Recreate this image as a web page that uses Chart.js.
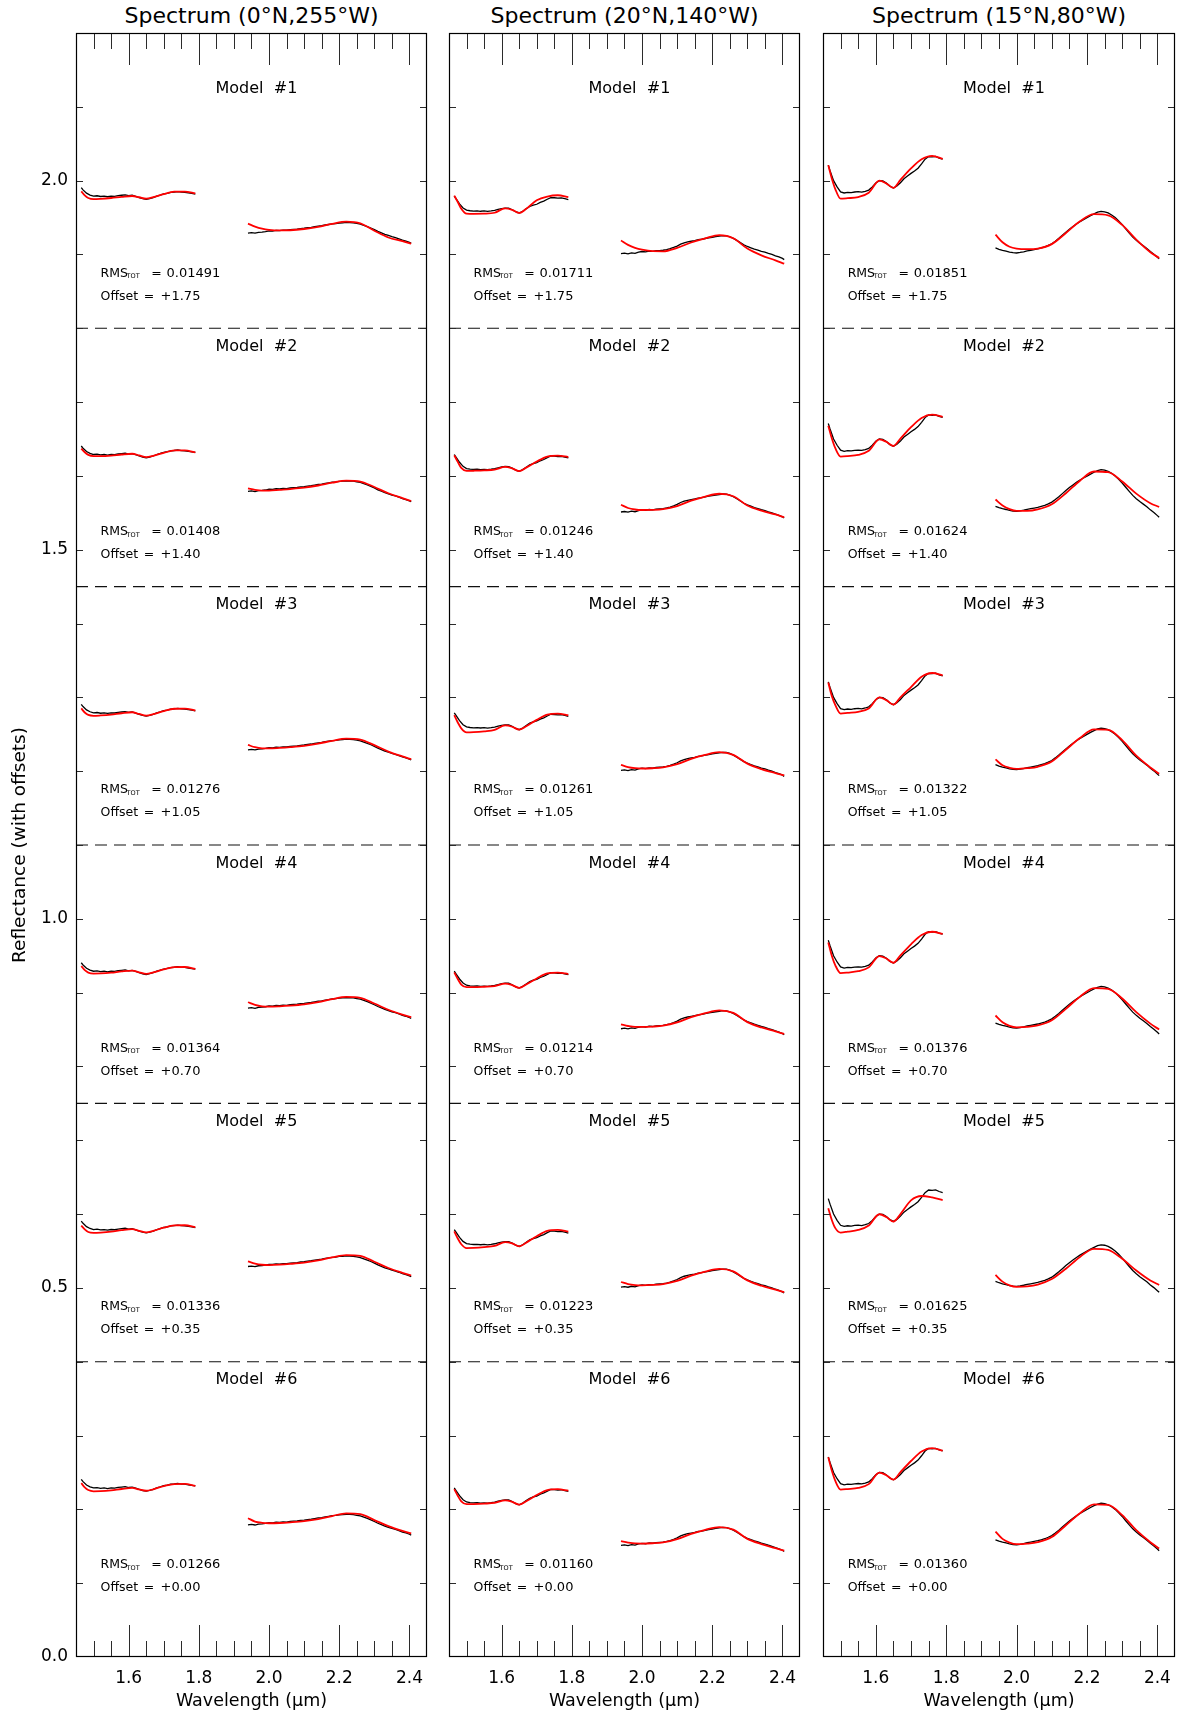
<!DOCTYPE html>
<html>
<head>
<meta charset="utf-8">
<title>Spectral model fits</title>
<script src="https://cdn.jsdelivr.net/npm/chart.js@4.4.1/dist/chart.umd.min.js"></script>
<style>
  html, body { margin: 0; padding: 0; background: #fff; }
  #page { position: relative; width: 1180px; height: 1715px; overflow: hidden; background: #fff; }
  canvas { position: absolute; top: 0; }
  .ttl { position: absolute; top: 4px; height: 24px; line-height: 24px; text-align: center;
         font-family: "DejaVu Sans", sans-serif; font-size: 22px; color: #000; white-space: nowrap; }
</style>
</head>
<body>
<div id="page"></div>
<script>
// ---------------- data ----------------
const columnTitles = ['Spectrum (0°N,255°W)', 'Spectrum (20°N,140°W)', 'Spectrum (15°N,80°W)'];
const modelNames = ['Model  #1', 'Model  #2', 'Model  #3', 'Model  #4', 'Model  #5', 'Model  #6'];
const offsets = [1.75, 1.40, 1.05, 0.70, 0.35, 0.00];
const offsetLabels = ['+1.75', '+1.40', '+1.05', '+0.70', '+0.35', '+0.00'];
const dividerLevels = [1.80, 1.45, 1.10, 0.75, 0.40];

const rmsCol1 = ['0.01491', '0.01408', '0.01276', '0.01364', '0.01336', '0.01266'];
const rmsCol2 = ['0.01711', '0.01246', '0.01261', '0.01214', '0.01223', '0.01160'];
const rmsCol3 = ['0.01851', '0.01624', '0.01322', '0.01376', '0.01625', '0.01360'];

const xTickLabels = [1.6, 1.8, 2.0, 2.2, 2.4];
const xMinorTicks = [1.5, 1.55, 1.65, 1.7, 1.75, 1.85, 1.9, 1.95, 2.05, 2.1, 2.15, 2.25, 2.3, 2.35];
const yTickLabels = [0.0, 0.5, 1.0, 1.5, 2.0];
const yMinorTicks = [0.1, 0.2, 0.3, 0.4, 0.5, 0.6, 0.7, 0.8, 0.9, 1.0, 1.1, 1.2, 1.3, 1.4, 1.5, 1.6, 1.7, 1.8, 1.9, 2.0, 2.1];

// observed spectra (wavelength in µm, reflectance without offset)
const wlObsShort = [1.465, 1.47, 1.48, 1.49, 1.50, 1.51, 1.52, 1.53, 1.54, 1.55, 1.56, 1.57, 1.58, 1.59, 1.60, 1.61, 1.62,
  1.63, 1.64, 1.65, 1.66, 1.67, 1.68, 1.69, 1.70, 1.71, 1.72, 1.73, 1.74, 1.75, 1.76, 1.77, 1.78, 1.79];
const wlObsLong = [1.94, 1.95, 1.96, 1.97, 1.98, 1.99, 2.00, 2.01, 2.02, 2.03, 2.04, 2.05, 2.06, 2.07, 2.08, 2.09, 2.10,
  2.11, 2.12, 2.13, 2.14, 2.15, 2.16, 2.17, 2.18, 2.19, 2.20, 2.21, 2.22, 2.23, 2.24, 2.25, 2.26, 2.27, 2.28, 2.29, 2.30,
  2.31, 2.32, 2.33, 2.34, 2.35, 2.36, 2.37, 2.38, 2.39, 2.40, 2.405];

const obsShort1 = [0.2405, 0.2375, 0.2330, 0.2305, 0.2290, 0.2295, 0.2285, 0.2290, 0.2282, 0.2291,
  0.2288, 0.2297, 0.2302, 0.2308, 0.2296, 0.2302, 0.2287, 0.2270, 0.2255, 0.2246,
  0.2256, 0.2270, 0.2290, 0.2304, 0.2320, 0.2328, 0.2340, 0.2344, 0.2351, 0.2343,
  0.2341, 0.2333, 0.2326, 0.2318];
const obsLong1 = [0.1790, 0.1796, 0.1788, 0.1800, 0.1803, 0.1809, 0.1820, 0.1817, 0.1826, 0.1823,
  0.1830, 0.1828, 0.1836, 0.1840, 0.1843, 0.1851, 0.1855, 0.1862, 0.1868, 0.1876,
  0.1884, 0.1889, 0.1899, 0.1906, 0.1914, 0.1918, 0.1926, 0.1929, 0.1934, 0.1931,
  0.1928, 0.1920, 0.1911, 0.1894, 0.1877, 0.1858, 0.1836, 0.1812, 0.1793, 0.1772,
  0.1757, 0.1741, 0.1728, 0.1712, 0.1693, 0.1680, 0.1663, 0.1652];

const obsShort2 = [0.2290, 0.2255, 0.2185, 0.2130, 0.2100, 0.2092, 0.2088, 0.2091, 0.2085, 0.2089,
  0.2084, 0.2090, 0.2098, 0.2110, 0.2121, 0.2128, 0.2127, 0.2106, 0.2079, 0.2062,
  0.2085, 0.2118, 0.2150, 0.2168, 0.2180, 0.2205, 0.2222, 0.2248, 0.2271, 0.2268,
  0.2262, 0.2266, 0.2255, 0.2243];
const obsLong2 = [0.1511, 0.1518, 0.1509, 0.1522, 0.1515, 0.1531, 0.1540, 0.1534, 0.1545, 0.1541,
  0.1550, 0.1553, 0.1557, 0.1566, 0.1578, 0.1595, 0.1614, 0.1640, 0.1658, 0.1670,
  0.1679, 0.1688, 0.1700, 0.1706, 0.1716, 0.1725, 0.1733, 0.1741, 0.1748, 0.1755,
  0.1753, 0.1740, 0.1718, 0.1690, 0.1660, 0.1630, 0.1608, 0.1590, 0.1572, 0.1558,
  0.1542, 0.1530, 0.1514, 0.1500, 0.1482, 0.1466, 0.1446, 0.1430];

const obsShort3 = [0.2710, 0.2635, 0.2500, 0.2415, 0.2348, 0.2333, 0.2342, 0.2338, 0.2346, 0.2350,
  0.2345, 0.2356, 0.2372, 0.2415, 0.2468, 0.2500, 0.2496, 0.2466, 0.2424, 0.2401,
  0.2428, 0.2472, 0.2526, 0.2562, 0.2598, 0.2630, 0.2668, 0.2726, 0.2790, 0.2826,
  0.2821, 0.2827, 0.2806, 0.2792];
const obsLong3 = [0.1588, 0.1570, 0.1556, 0.1545, 0.1532, 0.1524, 0.1520, 0.1527, 0.1536, 0.1548,
  0.1556, 0.1565, 0.1575, 0.1588, 0.1602, 0.1622, 0.1645, 0.1680, 0.1718, 0.1760,
  0.1802, 0.1842, 0.1878, 0.1912, 0.1944, 0.1972, 0.1998, 0.2025, 0.2050, 0.2072,
  0.2084, 0.2078, 0.2062, 0.2035, 0.2000, 0.1955, 0.1904, 0.1846, 0.1790, 0.1736,
  0.1692, 0.1652, 0.1618, 0.1582, 0.1540, 0.1504, 0.1462, 0.1440];

// model fits, one row per model (#1..#6)
const wlFitShort = [1.465, 1.475, 1.485, 1.50, 1.52, 1.55, 1.58, 1.61, 1.63, 1.65, 1.67, 1.70, 1.73, 1.76, 1.79];
const wlFitLong = [1.94, 1.96, 1.98, 2.00, 2.03, 2.06, 2.10, 2.14, 2.18, 2.22, 2.26, 2.30, 2.34, 2.38, 2.405];

const fitShort1 = [
  [0.2355, 0.2300, 0.2265, 0.2250, 0.2254, 0.2265, 0.2280, 0.2292, 0.2275, 0.2255, 0.2275, 0.2318, 0.2350, 0.2352, 0.2328],
  [0.2370, 0.2320, 0.2285, 0.2268, 0.2268, 0.2275, 0.2290, 0.2300, 0.2278, 0.2255, 0.2272, 0.2312, 0.2345, 0.2346, 0.2320],
  [0.2350, 0.2295, 0.2262, 0.2250, 0.2255, 0.2267, 0.2285, 0.2298, 0.2275, 0.2253, 0.2272, 0.2315, 0.2346, 0.2348, 0.2322],
  [0.2360, 0.2305, 0.2272, 0.2258, 0.2260, 0.2270, 0.2287, 0.2298, 0.2276, 0.2254, 0.2273, 0.2314, 0.2346, 0.2347, 0.2321],
  [0.2345, 0.2292, 0.2258, 0.2246, 0.2250, 0.2262, 0.2282, 0.2296, 0.2273, 0.2253, 0.2273, 0.2316, 0.2347, 0.2349, 0.2322],
  [0.2355, 0.2298, 0.2262, 0.2245, 0.2247, 0.2258, 0.2276, 0.2290, 0.2270, 0.2252, 0.2272, 0.2315, 0.2343, 0.2345, 0.2318]
];
const fitLong1 = [
  [0.1917, 0.1878, 0.1850, 0.1834, 0.1826, 0.1828, 0.1845, 0.1875, 0.1915, 0.1944, 0.1922, 0.1822, 0.1730, 0.1680, 0.1646],
  [0.1830, 0.1810, 0.1800, 0.1802, 0.1812, 0.1822, 0.1840, 0.1870, 0.1908, 0.1936, 0.1924, 0.1850, 0.1765, 0.1700, 0.1660],
  [0.1855, 0.1825, 0.1810, 0.1808, 0.1815, 0.1825, 0.1843, 0.1873, 0.1912, 0.1940, 0.1928, 0.1852, 0.1766, 0.1700, 0.1662],
  [0.1870, 0.1835, 0.1815, 0.1810, 0.1815, 0.1824, 0.1842, 0.1872, 0.1912, 0.1942, 0.1930, 0.1853, 0.1768, 0.1703, 0.1668],
  [0.1860, 0.1830, 0.1814, 0.1810, 0.1815, 0.1825, 0.1843, 0.1874, 0.1914, 0.1945, 0.1934, 0.1855, 0.1770, 0.1705, 0.1668],
  [0.1880, 0.1835, 0.1818, 0.1812, 0.1815, 0.1824, 0.1840, 0.1868, 0.1910, 0.1946, 0.1935, 0.1855, 0.1772, 0.1708, 0.1675]
];

const fitShort2 = [
  [0.2297, 0.2210, 0.2120, 0.2053, 0.2050, 0.2052, 0.2065, 0.2125, 0.2105, 0.2062, 0.2118, 0.2235, 0.2285, 0.2302, 0.2278],
  [0.2280, 0.2190, 0.2108, 0.2068, 0.2070, 0.2075, 0.2085, 0.2122, 0.2102, 0.2065, 0.2112, 0.2195, 0.2262, 0.2275, 0.2255],
  [0.2260, 0.2160, 0.2080, 0.2025, 0.2028, 0.2040, 0.2060, 0.2120, 0.2102, 0.2062, 0.2108, 0.2195, 0.2265, 0.2280, 0.2258],
  [0.2275, 0.2185, 0.2110, 0.2075, 0.2075, 0.2080, 0.2088, 0.2122, 0.2102, 0.2064, 0.2110, 0.2192, 0.2260, 0.2272, 0.2252],
  [0.2265, 0.2170, 0.2092, 0.2040, 0.2042, 0.2052, 0.2068, 0.2120, 0.2102, 0.2062, 0.2112, 0.2200, 0.2272, 0.2285, 0.2262],
  [0.2275, 0.2185, 0.2108, 0.2070, 0.2072, 0.2078, 0.2088, 0.2122, 0.2102, 0.2064, 0.2110, 0.2194, 0.2262, 0.2274, 0.2254]
];
const fitLong2 = [
  [0.1690, 0.1630, 0.1590, 0.1565, 0.1545, 0.1543, 0.1590, 0.1662, 0.1718, 0.1762, 0.1720, 0.1580, 0.1488, 0.1420, 0.1375],
  [0.1610, 0.1565, 0.1545, 0.1538, 0.1540, 0.1550, 0.1592, 0.1665, 0.1720, 0.1758, 0.1725, 0.1600, 0.1530, 0.1478, 0.1440],
  [0.1585, 0.1555, 0.1540, 0.1536, 0.1540, 0.1552, 0.1595, 0.1668, 0.1722, 0.1758, 0.1722, 0.1602, 0.1528, 0.1475, 0.1445],
  [0.1570, 0.1548, 0.1535, 0.1535, 0.1540, 0.1552, 0.1596, 0.1668, 0.1722, 0.1760, 0.1725, 0.1600, 0.1528, 0.1475, 0.1440],
  [0.1580, 0.1552, 0.1538, 0.1535, 0.1540, 0.1552, 0.1595, 0.1666, 0.1722, 0.1758, 0.1724, 0.1602, 0.1530, 0.1476, 0.1442],
  [0.1570, 0.1550, 0.1538, 0.1537, 0.1541, 0.1552, 0.1596, 0.1668, 0.1722, 0.1760, 0.1726, 0.1600, 0.1530, 0.1476, 0.1440]
];

const fitShort3 = [
  [0.2707, 0.2530, 0.2385, 0.2255, 0.2262, 0.2278, 0.2335, 0.2500, 0.2462, 0.2402, 0.2510, 0.2665, 0.2790, 0.2836, 0.2796],
  [0.2680, 0.2510, 0.2375, 0.2262, 0.2268, 0.2285, 0.2340, 0.2495, 0.2462, 0.2405, 0.2505, 0.2660, 0.2785, 0.2830, 0.2800],
  [0.2700, 0.2520, 0.2395, 0.2280, 0.2290, 0.2305, 0.2350, 0.2500, 0.2462, 0.2402, 0.2500, 0.2640, 0.2780, 0.2830, 0.2798],
  [0.2680, 0.2500, 0.2370, 0.2265, 0.2272, 0.2290, 0.2342, 0.2495, 0.2462, 0.2405, 0.2505, 0.2655, 0.2780, 0.2825, 0.2795],
  [0.2580, 0.2420, 0.2310, 0.2250, 0.2262, 0.2285, 0.2345, 0.2498, 0.2460, 0.2398, 0.2500, 0.2685, 0.2745, 0.2725, 0.2690],
  [0.2705, 0.2525, 0.2385, 0.2268, 0.2275, 0.2290, 0.2342, 0.2498, 0.2462, 0.2402, 0.2505, 0.2655, 0.2785, 0.2830, 0.2795]
];
const fitLong3 = [
  [0.1768, 0.1665, 0.1605, 0.1580, 0.1572, 0.1580, 0.1640, 0.1790, 0.1950, 0.2045, 0.2030, 0.1900, 0.1700, 0.1530, 0.1453],
  [0.1680, 0.1600, 0.1550, 0.1525, 0.1525, 0.1545, 0.1615, 0.1765, 0.1935, 0.2060, 0.2050, 0.1925, 0.1760, 0.1630, 0.1580],
  [0.1660, 0.1580, 0.1545, 0.1530, 0.1540, 0.1560, 0.1630, 0.1790, 0.1950, 0.2065, 0.2060, 0.1920, 0.1710, 0.1550, 0.1465],
  [0.1690, 0.1598, 0.1550, 0.1530, 0.1535, 0.1555, 0.1625, 0.1780, 0.1945, 0.2060, 0.2050, 0.1920, 0.1735, 0.1580, 0.1500],
  [0.1676, 0.1585, 0.1535, 0.1515, 0.1520, 0.1545, 0.1620, 0.1760, 0.1920, 0.2030, 0.2015, 0.1895, 0.1735, 0.1600, 0.1540],
  [0.1700, 0.1600, 0.1550, 0.1528, 0.1535, 0.1555, 0.1625, 0.1785, 0.1948, 0.2068, 0.2060, 0.1922, 0.1718, 0.1555, 0.1470]
];

// ---------------- layout ----------------
const PAGE_H = 1715;
const PLOT_TOP = 33, PLOT_BOTTOM = 1657;
const panelLeft = [76, 449, 823];
const panelWidth = [351, 351, 352];
const axisMargin = [76, 10, 10];
const RIGHT_PAD = 4;

// annotation anchors, in data units relative to each model's offset
const modelLabelX = 1.964, modelLabelLift = 0.375;
const statsX = 1.52, rmsLift = 0.126, offsetLift = 0.095;

const FONT = '"DejaVu Sans", sans-serif';

const columns = [
  { obsShort: obsShort1, obsLong: obsLong1, fitShort: fitShort1, fitLong: fitLong1, rms: rmsCol1 },
  { obsShort: obsShort2, obsLong: obsLong2, fitShort: fitShort2, fitLong: fitLong2, rms: rmsCol2 },
  { obsShort: obsShort3, obsLong: obsLong3, fitShort: fitShort3, fitLong: fitLong3, rms: rmsCol3 }
];

// two spectral windows joined with a gap point so the line breaks between them
function twoWindows(wlA, valA, wlB, valB, off) {
  const pts = wlA.map((w, i) => ({ x: w, y: valA[i] + off }));
  pts.push({ x: 1.865, y: null });
  wlB.forEach((w, i) => pts.push({ x: w, y: valB[i] + off }));
  return pts;
}

// frame, inward tick marks and per-model annotations
const panelDecor = {
  id: 'panelDecor',
  afterDraw(chart, args, opts) {
    const { ctx, chartArea: a, scales: { x, y } } = chart;
    const col = columns[opts.col];
    ctx.save();

    ctx.strokeStyle = '#2b2b2b';
    ctx.lineWidth = 1;
    ctx.beginPath();
    const xt = (v, len) => {
      const px = Math.round(x.getPixelForValue(v)) + 0.5;
      ctx.moveTo(px, a.bottom); ctx.lineTo(px, a.bottom - len);
      ctx.moveTo(px, a.top); ctx.lineTo(px, a.top + len);
    };
    xTickLabels.forEach(v => xt(v, 32));
    xMinorTicks.forEach(v => xt(v, 16));
    yMinorTicks.forEach(v => {
      const py = Math.round(y.getPixelForValue(v)) + 0.5;
      ctx.moveTo(a.left, py); ctx.lineTo(a.left + 7, py);
      ctx.moveTo(a.right, py); ctx.lineTo(a.right - 7, py);
    });
    ctx.stroke();

    ctx.strokeStyle = '#000';
    ctx.lineWidth = 1.2;
    ctx.strokeRect(Math.round(a.left) + 0.5, Math.round(a.top) + 0.5,
      Math.round(a.width) - 1, Math.round(a.height) - 1);

    ctx.fillStyle = '#000';
    offsets.forEach((off, m) => {
      ctx.font = '16px ' + FONT;
      ctx.textAlign = 'center';
      ctx.textBaseline = 'middle';
      ctx.fillText(modelNames[m], x.getPixelForValue(modelLabelX), y.getPixelForValue(off + modelLabelLift));

      const tx = x.getPixelForValue(statsX);
      const ry = y.getPixelForValue(off + rmsLift) + 4.5;
      const oy = y.getPixelForValue(off + offsetLift) + 4.5;
      ctx.textBaseline = 'alphabetic';
      ctx.font = '12.5px ' + FONT;
      ctx.textAlign = 'center';
      ctx.fillText('=', tx + 56, ry);
      ctx.fillText('=', tx + 48.5, oy);
      ctx.textAlign = 'left';
      ctx.fillText('RMS', tx, ry);
      ctx.fillText('Offset', tx, oy);
      ctx.font = '13px ' + FONT;
      ctx.fillText(col.rms[m], tx + 66, ry);
      ctx.fillText(offsetLabels[m], tx + 60, oy);
      ctx.font = '6.5px ' + FONT;
      ctx.fillText('TOT', tx + 26, ry + 1.5);
    });
    ctx.restore();
  }
};

const page = document.getElementById('page');

columns.forEach((col, c) => {
  const title = document.createElement('div');
  title.className = 'ttl';
  title.style.left = panelLeft[c] + 'px';
  title.style.width = panelWidth[c] + 'px';
  title.textContent = columnTitles[c];
  page.appendChild(title);

  const canvas = document.createElement('canvas');
  const w = axisMargin[c] + panelWidth[c] + RIGHT_PAD;
  canvas.width = w;
  canvas.height = PAGE_H;
  canvas.style.left = (panelLeft[c] - axisMargin[c]) + 'px';
  canvas.style.width = w + 'px';
  canvas.style.height = PAGE_H + 'px';
  page.appendChild(canvas);

  const datasets = [];
  offsets.forEach((off, m) => {
    datasets.push({
      data: twoWindows(wlFitShort, col.fitShort[m], wlFitLong, col.fitLong[m], off),
      borderColor: '#ff0000', borderWidth: 1.8, pointRadius: 0,
      tension: 0.4, cubicInterpolationMode: 'monotone', spanGaps: false, order: 0
    });
  });
  offsets.forEach((off, m) => {
    datasets.push({
      data: twoWindows(wlObsShort, col.obsShort, wlObsLong, col.obsLong, off),
      borderColor: '#000000', borderWidth: 1.3, pointRadius: 0,
      tension: 0, spanGaps: false, order: 1
    });
  });
  dividerLevels.forEach(level => {
    datasets.push({
      data: [{ x: 1.45, y: level }, { x: 2.45, y: level }],
      borderColor: '#111', borderWidth: 1.2, borderDash: [12, 7], pointRadius: 0, order: 2
    });
  });

  new Chart(canvas, {
    type: 'line',
    data: { datasets },
    options: {
      responsive: false,
      animation: false,
      devicePixelRatio: 1,
      events: [],
      layout: { padding: { left: 0, right: RIGHT_PAD, top: PLOT_TOP, bottom: 0 } },
      plugins: { legend: { display: false }, tooltip: { enabled: false }, panelDecor: { col: c } },
      scales: {
        x: {
          type: 'linear', position: 'bottom', min: 1.45, max: 2.45,
          grid: { display: false, drawTicks: false }, border: { display: false },
          afterBuildTicks: s => { s.ticks = xTickLabels.map(v => ({ value: v })); },
          afterFit: s => { s.height = PAGE_H - PLOT_BOTTOM; s.paddingLeft = 0; s.paddingRight = 0; },
          ticks: { autoSkip: false, maxRotation: 0, padding: 11, color: '#000',
                   font: { family: FONT, size: 17 }, callback: v => Number(v).toFixed(1) },
          title: { display: true, text: 'Wavelength (μm)', color: '#000',
                   font: { family: FONT, size: 17.5 }, padding: { top: 0, bottom: 3 } }
        },
        y: {
          type: 'linear', position: 'left', min: 0, max: 2.2,
          grid: { display: false, drawTicks: false }, border: { display: false },
          afterBuildTicks: s => { s.ticks = yTickLabels.map(v => ({ value: v })); },
          afterFit: s => { s.width = axisMargin[c]; s.paddingTop = 0; s.paddingBottom = 0; },
          ticks: { display: c === 0, autoSkip: false, padding: 8, color: '#000',
                   font: { family: FONT, size: 17 }, callback: v => Number(v).toFixed(1) },
          title: { display: c === 0, text: 'Reflectance (with offsets)', color: '#000',
                   font: { family: FONT, size: 18.5 }, padding: { top: 9, bottom: 0 } }
        }
      }
    },
    plugins: [panelDecor]
  });
});
</script>
</body>
</html>
